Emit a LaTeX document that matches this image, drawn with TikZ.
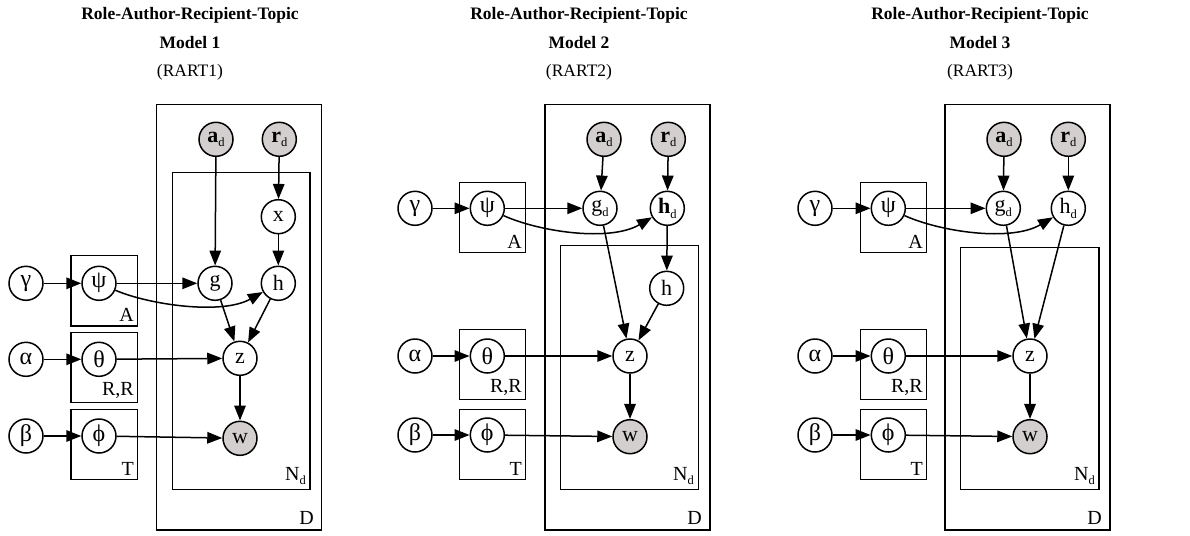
\documentclass[tikz,border=0pt]{standalone}
\usepackage{fontspec}
\setmainfont{Liberation Serif}
\usetikzlibrary{arrows.meta}
\definecolor{obsgray}{RGB}{211,207,207}
\newcommand\nfont{\fontsize{22}{24}\selectfont}
\newcommand\pfont{\fontsize{20}{22}\selectfont}
\newcommand\gfont{\fontsize{24}{26}\selectfont}
\newcommand\dsub{\raisebox{-0.45ex}{\fontsize{12.5}{13}\selectfont d}}
\tikzset{
  latent/.style={circle, draw, line width=1.5pt, minimum size=34pt, inner sep=0pt, fill=white, font=\nfont},
  greek/.style={latent, font=\gfont},
  obs/.style={latent, fill=obsgray},
  plate/.style={draw, line width=1.5pt},
  platelabel/.style={anchor=south east, inner sep=0pt, font=\pfont},
  edge/.style={-{Triangle[length=15pt,width=11.5pt]}, line width=1.5pt},
  title/.style={anchor=north, align=center, inner sep=0pt, font=\fontsize{17.5}{28.5}\selectfont}
}
\begin{document}
\begin{tikzpicture}[x=1pt, y=-1pt]
\useasboundingbox (0,0) rectangle (1190,535);

% ---------------- Model 1 ----------------
\node[title] (t1) at (190,7.5) {\textbf{Role-Author-Recipient-Topic}\\\textbf{Model 1}\\(RART1)};
\draw[plate] (156.7,104.3) rectangle (321.7,530);
\node[platelabel] (m1Dl) at (314,525) {D};
\draw[plate] (172.3,172.7) rectangle (310,489.3);
\node[platelabel] (m1Nl) at (306,485) {N\dsub};
\draw[plate] (71,255.7) rectangle (137.3,326);
\node[platelabel] (m1Al) at (134,322) {A};
\draw[plate] (71,332.3) rectangle (137.3,402.7);
\node[platelabel] (m1Rl) at (134,399) {R,R};
\draw[plate] (71,409.3) rectangle (137.3,479.3);
\node[platelabel] (m1Tl) at (134,476) {T};

\node[obs] (m1a) at (216,139.3) {\textbf{a}\dsub};
\node[obs] (m1r) at (279.3,139.3) {\textbf{r}\dsub};
\node[latent] (m1x) at (278.3,216.7) {x};
\node[latent] (m1g) at (215,283.3) {g};
\node[latent] (m1h) at (278.3,283.3) {h};
\node[latent] (m1z) at (240,358.3) {z};
\node[obs] (m1w) at (240,438.3) {w};
\node[greek] (m1gam) at (26,283.3) {γ};
\node[greek] (m1psi) at (99,283.3) {ψ};
\node[greek] (m1alp) at (26,359.3) {α};
\node[greek] (m1the) at (99,359.3) {θ};
\node[greek] (m1bet) at (26,436) {β};
\node[greek] (m1phi) at (99,436) {ϕ};

\draw[edge] (m1gam) -- (m1psi);
\draw[edge] (m1alp) -- (m1the);
\draw[edge] (m1bet) -- (m1phi);
\draw[edge] (m1psi) -- (m1g);
\draw[edge] (m1psi) .. controls (150,305) and (222,315) .. (m1h);
\draw[edge] (m1the) -- (m1z);
\draw[edge] (m1phi) -- (m1w);
\draw[edge] (m1a) -- (m1g);
\draw[edge] (m1r) -- (m1x);
\draw[edge] (m1x) -- (m1h);
\draw[edge] (m1g) -- (m1z);
\draw[edge] (m1h) -- (m1z);
\draw[edge] (m1z) -- (m1w);

% ---------------- Model 2 ----------------
\node[title] (t2) at (579,7.5) {\textbf{Role-Author-Recipient-Topic}\\\textbf{Model 2}\\(RART2)};
\draw[plate] (545,104.3) rectangle (710,530);
\node[platelabel] (m2Dl) at (702,525) {D};
\draw[plate] (560.7,245.7) rectangle (698.3,489.3);
\node[platelabel] (m2Nl) at (694,485) {N\dsub};
\draw[plate] (459.3,182.7) rectangle (525.7,252.7);
\node[platelabel] (m2Al) at (522,249) {A};
\draw[plate] (459.3,329.3) rectangle (525.7,399.3);
\node[platelabel] (m2Rl) at (522,396) {R,R};
\draw[plate] (459.3,409.3) rectangle (525.7,479.3);
\node[platelabel] (m2Tl) at (522,476) {T};

\node[obs] (m2a) at (604,139.3) {\textbf{a}\dsub};
\node[obs] (m2r) at (668.3,139.3) {\textbf{r}\dsub};
\node[latent] (m2gd) at (600,208.3) {g\dsub};
\node[latent] (m2hd) at (667.3,208.3) {\textbf{h}\dsub};
\node[latent] (m2h) at (666.7,288.3) {h};
\node[latent] (m2z) at (630,356) {z};
\node[obs] (m2w) at (630,436.7) {w};
\node[greek] (m2gam) at (415,208.3) {γ};
\node[greek] (m2psi) at (487.3,208.3) {ψ};
\node[greek] (m2alp) at (415,356) {α};
\node[greek] (m2the) at (487.3,356) {θ};
\node[greek] (m2bet) at (415,435) {β};
\node[greek] (m2phi) at (487.3,435) {ϕ};

\draw[edge] (m2gam) -- (m2psi);
\draw[edge] (m2alp) -- (m2the);
\draw[edge] (m2bet) -- (m2phi);
\draw[edge] (m2psi) -- (m2gd);
\draw[edge] (m2psi) .. controls (540,232) and (610,242) .. (m2hd);
\draw[edge] (m2the) -- (m2z);
\draw[edge] (m2phi) -- (m2w);
\draw[edge] (m2a) -- (m2gd);
\draw[edge] (m2r) -- (m2hd);
\draw[edge] (m2gd) -- (m2z);
\draw[edge] (m2hd) -- (m2h);
\draw[edge] (m2h) -- (m2z);
\draw[edge] (m2z) -- (m2w);

% ---------------- Model 3 ----------------
\node[title] (t3) at (980,7.5) {\textbf{Role-Author-Recipient-Topic}\\\textbf{Model 3}\\(RART3)};
\draw[plate] (945,104.3) rectangle (1110,530);
\node[platelabel] (m3Dl) at (1102,525) {D};
\draw[plate] (960.7,247.3) rectangle (1099,489.3);
\node[platelabel] (m3Nl) at (1095,485) {N\dsub};
\draw[plate] (860.7,182.7) rectangle (926.7,252.7);
\node[platelabel] (m3Al) at (923,249) {A};
\draw[plate] (860.7,329.3) rectangle (926.7,399.3);
\node[platelabel] (m3Rl) at (923,396) {R,R};
\draw[plate] (860.7,409.3) rectangle (926.7,479.3);
\node[platelabel] (m3Tl) at (923,476) {T};

\node[obs] (m3a) at (1004,139.3) {\textbf{a}\dsub};
\node[obs] (m3r) at (1068.3,139.3) {\textbf{r}\dsub};
\node[latent] (m3gd) at (1003.3,208.3) {g\dsub};
\node[latent] (m3hd) at (1068.3,208.3) {h\dsub};
\node[latent] (m3z) at (1030,356) {z};
\node[obs] (m3w) at (1030,436.7) {w};
\node[greek] (m3gam) at (815,208.3) {γ};
\node[greek] (m3psi) at (888.3,208.3) {ψ};
\node[greek] (m3alp) at (815,356) {α};
\node[greek] (m3the) at (888.3,356) {θ};
\node[greek] (m3bet) at (815,435) {β};
\node[greek] (m3phi) at (888.3,435) {ϕ};

\draw[edge] (m3gam) -- (m3psi);
\draw[edge] (m3alp) -- (m3the);
\draw[edge] (m3bet) -- (m3phi);
\draw[edge] (m3psi) -- (m3gd);
\draw[edge] (m3psi) .. controls (941,232) and (1011,242) .. (m3hd);
\draw[edge] (m3the) -- (m3z);
\draw[edge] (m3phi) -- (m3w);
\draw[edge] (m3a) -- (m3gd);
\draw[edge] (m3r) -- (m3hd);
\draw[edge] (m3gd) -- (m3z);
\draw[edge] (m3hd) -- (m3z);
\draw[edge] (m3z) -- (m3w);
\end{tikzpicture}
\end{document}
